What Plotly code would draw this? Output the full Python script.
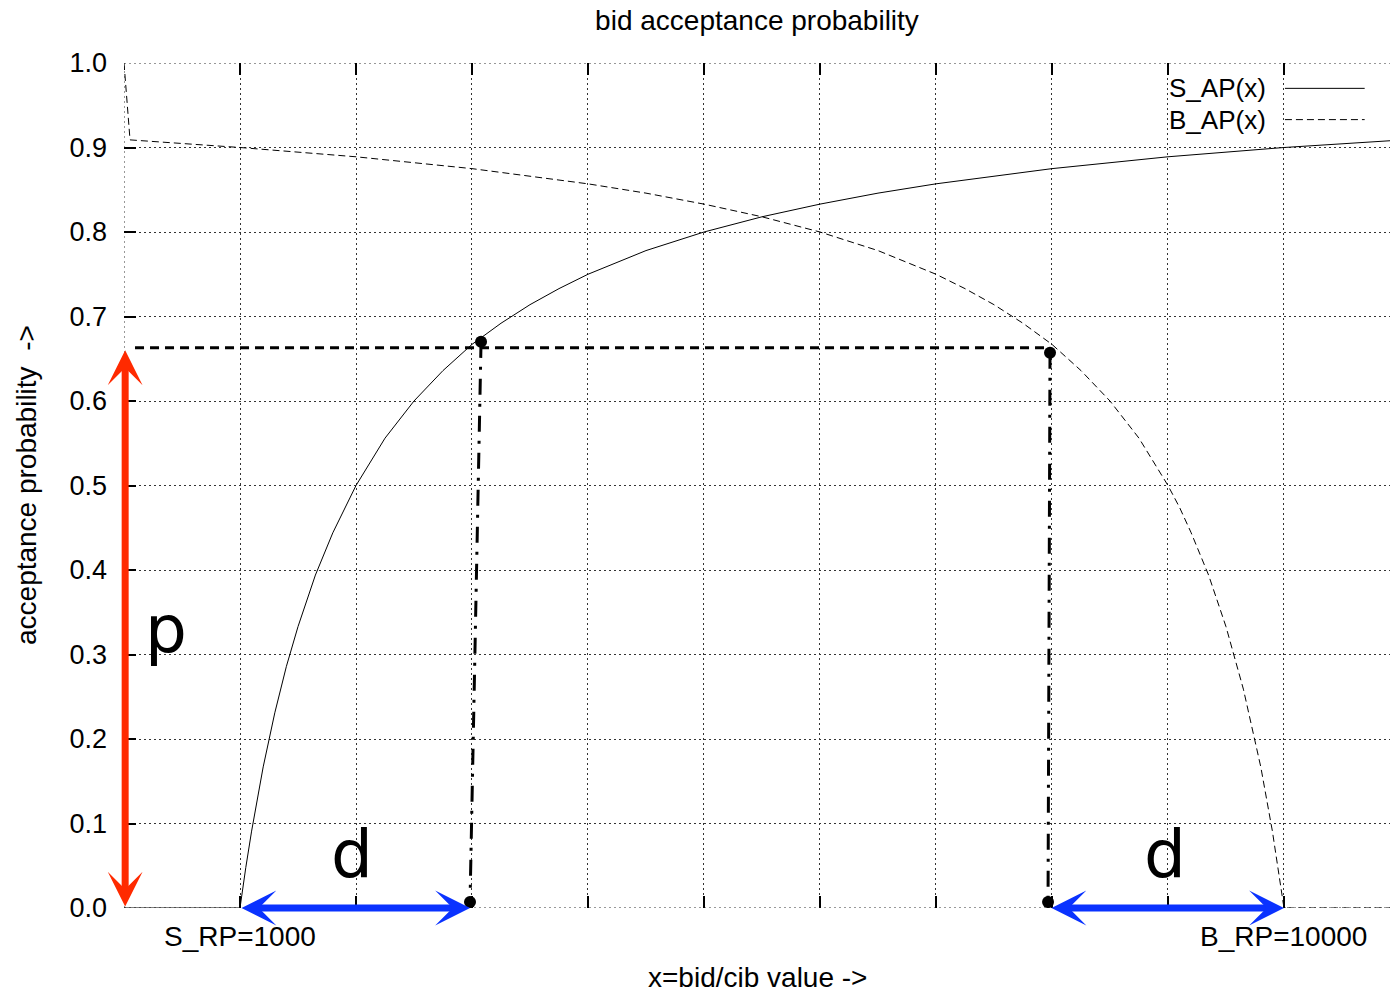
import plotly.graph_objects as go

# Seller acceptance probability S_AP(x), zero below the seller reserve price
s_x = [0, 1000, 1050, 1100, 1200, 1300, 1400, 1500, 1650, 1800, 2000, 2250, 2500,
       2750, 3000, 3250, 3500, 3750, 4000, 4500, 5000, 5500, 6000, 6500, 7000, 8000,
       9000, 10000, 10914]
s_ap = [0, 0, 0.048, 0.091, 0.167, 0.231, 0.286, 0.333, 0.394, 0.444, 0.5, 0.556, 0.6,
        0.636, 0.667, 0.692, 0.714, 0.733, 0.75, 0.778, 0.8, 0.818, 0.833, 0.846, 0.857,
        0.875, 0.889, 0.9, 0.908]

# Buyer acceptance probability B_AP(x), zero above the buyer reserve price
b_x = [0, 52, 1000, 2000, 3000, 4000, 4500, 5000, 5500, 6000, 6500, 7000, 7250, 7500,
       7750, 8000, 8250, 8500, 8750, 9000, 9100, 9200, 9350, 9500, 9650, 9750, 9800,
       9900, 9950, 10000, 10914]
b_ap = [1.0, 0.909, 0.9, 0.889, 0.875, 0.857, 0.846, 0.833, 0.818, 0.8, 0.778, 0.75,
        0.733, 0.714, 0.692, 0.667, 0.636, 0.6, 0.556, 0.5, 0.474, 0.444, 0.394, 0.333,
        0.259, 0.2, 0.167, 0.091, 0.048, 0, 0]

S_RP = 1000
B_RP = 10000
X_MAX = 10914

# Equal-probability guide: horizontal level p and the two matching bids
p_level = 0.663
guide_h_x = [95, 7983]
left_drop_x = [3078, 2983]
left_drop_y = [0.670, 0.007]
right_drop_x = [7983, 7966]
right_drop_y = [0.657, 0.007]
dot_x = [3078, 7983, 2983, 7966]
dot_y = [0.670, 0.657, 0.007, 0.007]

# Distances d from each reserve price, and the arrow for p
d_left = [S_RP, 2983]
d_right = [7983, B_RP]
p_arrow_x = 10

TXT = "Liberation Sans, Arial, sans-serif"
HAND = "DejaVu Sans, sans-serif"
RED = "#ff2a00"
BLUE = "#0a32ff"
GRID = "#333"
GRID_DASH = "2px,3px"

fig = go.Figure()

fig.add_trace(go.Scatter(x=s_x, y=s_ap, mode="lines", name="S_AP(x)",
                         line=dict(color="black", width=1), showlegend=False))
fig.add_trace(go.Scatter(x=b_x, y=b_ap, mode="lines", name="B_AP(x)",
                         line=dict(color="black", width=1, dash="7px,4px"), showlegend=False))

guide = dict(color="black", width=3)
fig.add_trace(go.Scatter(x=guide_h_x, y=[p_level, p_level], mode="lines",
                         line=dict(guide, dash="9px,6px"), showlegend=False))
fig.add_trace(go.Scatter(x=left_drop_x, y=left_drop_y, mode="lines",
                         line=dict(guide, dash="16px,9px,3px,9px"), showlegend=False))
fig.add_trace(go.Scatter(x=right_drop_x, y=right_drop_y, mode="lines",
                         line=dict(guide, dash="16px,9px,3px,9px"), showlegend=False))
fig.add_trace(go.Scatter(x=dot_x, y=dot_y, mode="markers",
                         marker=dict(color="black", size=12), showlegend=False))

annotations = []

# Double-headed arrows
def double_arrow(x0, y0, x1, y1, color):
    return dict(x=x1, y=y1, ax=x0, ay=y0, xref="x", yref="y", axref="x", ayref="y",
                text="", showarrow=True, arrowhead=3, startarrowhead=3,
                arrowside="end+start", arrowwidth=7, arrowsize=0.83,
                startarrowsize=0.83, arrowcolor=color, standoff=0, startstandoff=0)

annotations.append(double_arrow(p_arrow_x, 0, p_arrow_x, 0.660, RED))
annotations.append(double_arrow(d_left[0], 0, d_left[1], 0, BLUE))
annotations.append(double_arrow(d_right[0], 0, d_right[1], 0, BLUE))

# Hand-lettered labels
for txt, x, y in [("p", 362, 0.33), ("d", 1966, 0.063), ("d", 8974, 0.063)]:
    annotations.append(dict(x=x, y=y, xref="x", yref="y", text=txt, showarrow=False,
                            font=dict(family=HAND, size=66, color="black"),
                            xanchor="center", yanchor="middle"))

# Reserve price labels
for txt, x in [("S_RP=1000", S_RP), ("B_RP=10000", B_RP)]:
    annotations.append(dict(x=x, y=-0.0343, xref="x", yref="paper", text=txt,
                            showarrow=False, font=dict(family=TXT, size=28, color="black"),
                            xanchor="center", yanchor="middle"))

# Axis titles
annotations.append(dict(x=0.5, y=-0.0817, xref="paper", yref="paper",
                        text="x=bid/cib value ->", showarrow=False,
                        font=dict(family=TXT, size=28, color="black"),
                        xanchor="center", yanchor="middle"))
annotations.append(dict(x=-0.0766, y=0.5006, xref="paper", yref="paper",
                        text="acceptance probability  ->", textangle=-90, showarrow=False,
                        font=dict(family=TXT, size=28, color="black"),
                        xanchor="center", yanchor="middle"))

# Key in the upper right: label on the left, line sample on the right
key_rows = [("S_AP(x)", 0.970, "solid"), ("B_AP(x)", 0.933, "7px,4px")]
shapes = []
for label, ky, dash in key_rows:
    annotations.append(dict(x=0.9028, y=ky, xref="paper", yref="paper", text=label,
                            showarrow=False, font=dict(family=TXT, size=26, color="black"),
                            xanchor="right", yanchor="middle", borderpad=0))
    shapes.append(dict(type="line", xref="paper", yref="paper", x0=0.917, x1=0.980,
                       y0=ky, y1=ky, line=dict(color="black", width=1, dash=dash)))

# Dotted grid lines on the plot edges (x=0, y=0 and y=1)
edge = dict(color=GRID, width=1, dash=GRID_DASH)
shapes.append(dict(type="line", xref="x", yref="paper", x0=0, x1=0, y0=0, y1=1,
                   line=edge, layer="below"))
for gy in (0, 1):
    shapes.append(dict(type="line", xref="paper", yref="y", x0=0, x1=1, y0=gy, y1=gy,
                       line=edge, layer="below"))

axis_common = dict(showgrid=True, gridcolor=GRID, gridwidth=1, griddash=GRID_DASH,
                   zeroline=False, showline=False, ticks="inside", ticklen=12,
                   tickwidth=1.5, tickcolor="black")

fig.update_layout(
    width=1390, height=992,
    margin=dict(l=124, r=0, t=63, b=84),
    paper_bgcolor="white", plot_bgcolor="white",
    title=dict(text="bid acceptance probability", x=0.5, xref="paper",
               y=1 - 20 / 992, yanchor="middle",
               font=dict(family=TXT, size=28, color="black")),
    xaxis=dict(range=[0, X_MAX], dtick=1000, tick0=0, showticklabels=False,
               mirror="ticks", **axis_common),
    yaxis=dict(range=[0, 1.0], dtick=0.1, tick0=0, tickformat=".1f",
               ticklabelstandoff=16, mirror=False,
               tickfont=dict(family=TXT, size=27, color="black"), **axis_common),
    annotations=annotations,
    shapes=shapes,
)

fig.write_html("out.html")
